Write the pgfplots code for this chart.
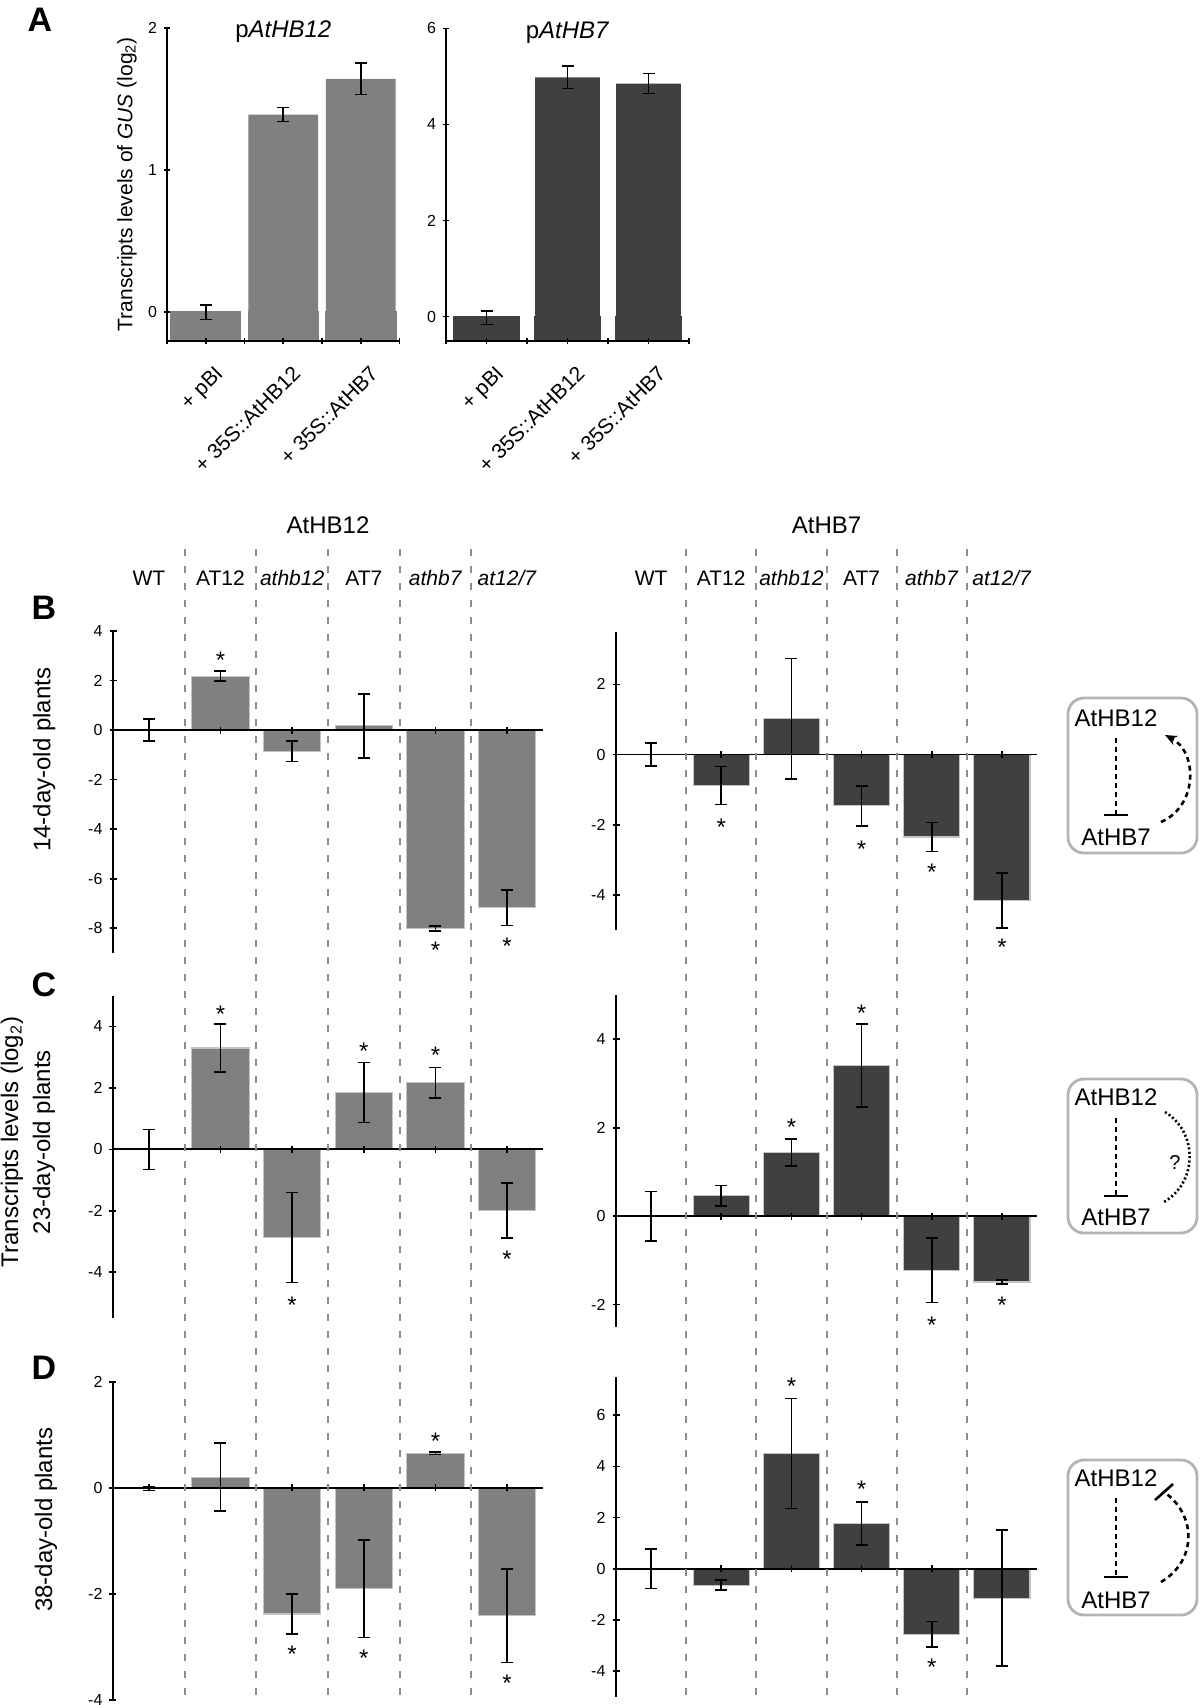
\documentclass[border=0pt]{standalone}
\usepackage{fontspec}
\setmainfont{Liberation Sans}
\usepackage{pgfplots}
\pgfplotsset{compat=1.18}
\usepackage{pgfplotstable}
\usetikzlibrary{arrows.meta}

\definecolor{lbar}{HTML}{808080}
\definecolor{dbar}{HTML}{404040}
\definecolor{bedge}{HTML}{C4C4C4}
\definecolor{sepc}{HTML}{8C8C8C}
\definecolor{boxc}{HTML}{B4B4B4}

% Panel A
\pgfplotstableread{
x y e
0 0 0.05
1 1.39 0.05
2 1.64 0.11
}\Aleft
\pgfplotstableread{
x y e
0 -0.02 0.14
1 4.98 0.23
2 4.85 0.21
}\Aright
% 14-day
\pgfplotstableread{
x y e
0 0 0.45
1 2.18 0.20
2 -0.85 0.42
3 0.17 1.29
4 -8.00 0.10
5 -7.17 0.72
}\Bleft
\pgfplotstableread{
x y e
0 0 0.33
1 -0.88 0.54
2 1.02 1.72
3 -1.46 0.57
4 -2.35 0.41
5 -4.16 0.78
}\Bright
% 23-day
\pgfplotstableread{
x y e
0 0 0.65
1 3.30 0.78
2 -2.87 1.47
3 1.85 0.98
4 2.17 0.49
5 -1.99 0.90
}\Cleft
\pgfplotstableread{
x y e
0 0 0.56
1 0.46 0.23
2 1.44 0.31
3 3.41 0.94
4 -1.22 0.73
5 -1.49 0.04
}\Cright
% 38-day
\pgfplotstableread{
x y e
0 -0.02 0.03
1 0.20 0.64
2 -2.38 0.38
3 -1.90 0.92
4 0.65 0.02
5 -2.41 0.88
}\Dleft
\pgfplotstableread{
x y e
0 0 0.77
1 -0.64 0.19
2 4.50 2.15
3 1.76 0.84
4 -2.56 0.50
5 -1.15 2.66
}\Dright

\tikzset{astar/.style={font=\fontsize{12}{14}\selectfont, inner sep=0pt, yshift=-2.4pt}}

\pgfplotsset{
  myaxis/.style={
    scale only axis, clip=false, axis on top,
    anchor=south west,
    /pgf/number format/assume math mode=true,
    tick label style={font=\fontsize{8}{9.6}\selectfont},
    axis line style={-, line width=0.9pt, black},
    tick style={black, line width=0.8pt},
    tick align=outside,
    major tick length=3pt,
    minor tick length=3pt,
    hide obscured x ticks=false,
    hide obscured y ticks=false,
  },
  genax/.style={
    myaxis,
    xmin=-0.5, xmax=5.5,
    axis y line=left, axis x line=middle,
    axis line style={-},
    xtick={0,1,2,3,4,5},
    xticklabels={,,,,,},
    major tick length=3.5pt,
  },
  mybar/.style={
    ybar, bar width=0.8, fill=#1, draw=bedge, line width=0.6pt,
    error bars/y dir=both, error bars/y explicit,
    error bars/error bar style={black, line width=0.8pt},
    error bars/error mark options={black, line width=0.8pt, mark size=3pt, rotate=90},
  },
  Aax/.style={
    myaxis,
    xmin=-0.5, xmax=2.5,
    axis lines=left, axis line style={-},
    xtick={0,1,2},
    xticklabels={+ pBI, + 35S::AtHB12, + 35S::AtHB7},
    minor xtick={-0.5,0.5,1.5,2.5},
    xticklabel style={xshift=4pt, yshift=-5.5pt, rotate=45, anchor=north east, font=\fontsize{10.5}{12}\selectfont},
    title style={at={(0.5,1)}, anchor=center, yshift=-8pt, font=\fontsize{12}{14}\selectfont},
  },
}

\begin{document}
\begin{tikzpicture}
\useasboundingbox (0pt,0pt) rectangle (600pt,-852.5pt);

% ---------------- Panel A ----------------
\begin{axis}[Aax, at={(83.5pt,-170.35pt)}, width=116.3pt, height=156.5pt,
  ymin=-0.2, ymax=2, ytick={0,1,2},
  title={p\textit{AtHB12}},
  ylabel={Transcripts levels of \textit{GUS} (log\textsubscript{2})},
  ylabel style={at={(axis description cs:-0.172,0.5)}, anchor=center, font=\fontsize{10.5}{12}\selectfont},
]
\addplot[ybar, bar width=0.9, fill=lbar, draw=lbar, line width=0.8pt] coordinates {(0,-0.2) (1,-0.2) (2,-0.2)};
\addplot[mybar=lbar, bar width=0.9, draw=none] table[x=x, y=y, y error=e] {\Aleft};
\end{axis}

\begin{axis}[Aax, at={(223pt,-170.35pt)}, width=121.5pt, height=156.2pt,
  ymin=-0.5, ymax=6, ytick={0,2,4,6},
  title={p\textit{AtHB7}},
]
\addplot[ybar, bar width=0.8, fill=dbar, draw=dbar, line width=0.8pt] coordinates {(0,-0.5) (1,-0.5) (2,-0.5)};
\addplot[mybar=dbar, draw=none] table[x=x, y=y, y error=e] {\Aright};
\end{axis}

% ---------------- Panel B (14-day) ----------------
\begin{axis}[genax, at={(56.5pt,-476.5pt)}, width=215pt, height=161pt,
  ymin=-9, ymax=4, ytick={-8,-6,-4,-2,0,2,4},
  xticklabels={WT,AT12,\textit{athb12},AT7,\textit{athb7},\textit{at12/7}},
  xticklabel style={anchor=base, yshift=74.25pt, font=\fontsize{10.5}{12}\selectfont},
  title={AtHB12},
  title style={at={(0.5,1)}, anchor=center, yshift=47pt, font=\fontsize{12}{14}\selectfont},
  ylabel={14-day-old plants},
  ylabel style={at={(axis description cs:-0.160,0.6)}, anchor=center, font=\fontsize{12}{14}\selectfont},
]
\addplot[mybar=lbar] table[x=x, y=y, y error=e] {\Bleft};
\node[astar] at (axis cs:1,3.0) {*};
\node[astar] at (axis cs:4,-8.68) {*};
\node[astar] at (axis cs:5,-8.55) {*};
\end{axis}

\begin{axis}[genax, at={(308pt,-465pt)}, width=210.5pt, height=149.15pt,
  ymin=-5, ymax=3.5, ytick={-4,-2,0,2},
  xticklabels={WT,AT12,\textit{athb12},AT7,\textit{athb7},\textit{at12/7}},
  xticklabel style={anchor=base, yshift=86.25pt, font=\fontsize{10.5}{12}\selectfont},
  title={AtHB7},
  title style={at={(0.5,1)}, anchor=center, yshift=47.35pt, font=\fontsize{12}{14}\selectfont},
]
\addplot[mybar=dbar] table[x=x, y=y, y error=e] {\Bright};
\node[astar] at (axis cs:1,-1.93) {*};
\node[astar] at (axis cs:3,-2.55) {*};
\node[astar] at (axis cs:4,-3.21) {*};
\node[astar] at (axis cs:5,-5.34) {*};
\end{axis}

% ---------------- Panel C (23-day) ----------------
\begin{axis}[genax, at={(56.5pt,-659.15pt)}, width=215pt, height=161.3pt,
  ymin=-5.5, ymax=5, ytick={-4,-2,0,2,4},
  ylabel={Transcripts levels (log\textsubscript{2})\\23-day-old plants},
  ylabel style={at={(axis description cs:-0.198,0.546)}, anchor=center, align=center, font=\fontsize{12}{16}\selectfont},
]
\addplot[mybar=lbar] table[x=x, y=y, y error=e] {\Cleft};
\node[astar] at (axis cs:1,4.55) {*};
\node[astar] at (axis cs:2,-4.92) {*};
\node[astar] at (axis cs:3,3.34) {*};
\node[astar] at (axis cs:4,3.21) {*};
\node[astar] at (axis cs:5,-3.42) {*};
\end{axis}

\begin{axis}[genax, at={(308pt,-663.35pt)}, width=210.5pt, height=165.85pt,
  ymin=-2.5, ymax=5, ytick={-2,0,2,4},
]
\addplot[mybar=dbar] table[x=x, y=y, y error=e] {\Cright};
\node[astar] at (axis cs:2,2.11) {*};
\node[astar] at (axis cs:3,4.69) {*};
\node[astar] at (axis cs:4,-2.35) {*};
\node[astar] at (axis cs:5,-1.90) {*};
\end{axis}

% ---------------- Panel D (38-day) ----------------
\begin{axis}[genax, at={(56.5pt,-850pt)}, width=215pt, height=159.15pt,
  ymin=-4, ymax=2, ytick={-4,-2,0,2},
  ylabel={38-day-old plants},
  ylabel style={at={(axis description cs:-0.156,0.566)}, anchor=center, font=\fontsize{12}{14}\selectfont},
]
\addplot[mybar=lbar] table[x=x, y=y, y error=e] {\Dleft};
\node[astar] at (axis cs:2,-3.04) {*};
\node[astar] at (axis cs:3,-3.12) {*};
\node[astar] at (axis cs:4,0.96) {*};
\node[astar] at (axis cs:5,-3.60) {*};
\end{axis}

\begin{axis}[genax, at={(308pt,-848.35pt)}, width=210.5pt, height=160pt,
  ymin=-5, ymax=7.5, ytick={-4,-2,0,2,4,6},
]
\addplot[mybar=dbar] table[x=x, y=y, y error=e] {\Dright};
\node[astar] at (axis cs:2,7.3) {*};
\node[astar] at (axis cs:3,3.29) {*};
\node[astar] at (axis cs:4,-3.66) {*};
\end{axis}

% separators
\foreach \xx in {92.35,128.15,164,199.85,235.65,343.1,378.15,413.25,448.35,483.4}
  \draw[sepc, line width=1pt, dash pattern=on 3.5pt off 5pt] (\xx pt,-274.5pt) -- (\xx pt,-852.5pt);

% panel letters
\node[font=\bfseries\fontsize{17}{20}\selectfont] at (20pt,-10pt) {A};
\node[font=\bfseries\fontsize{17}{20}\selectfont] at (22pt,-304pt) {B};
\node[font=\bfseries\fontsize{17}{20}\selectfont] at (22pt,-492.5pt) {C};
\node[font=\bfseries\fontsize{17}{20}\selectfont] at (22pt,-684pt) {D};

% diagrams
\tikzset{dtxt/.style={font=\fontsize{12}{14}\selectfont, inner sep=0pt},
  dline/.style={line width=1.3pt, dash pattern=on 2.5pt off 2pt}}
% B
\draw[boxc, line width=1.4pt, rounded corners=8pt] (534pt,-349pt) rectangle (598.5pt,-426.5pt);
\node[dtxt] at (558pt,-359pt) {AtHB12};
\node[dtxt] at (558pt,-418.5pt) {AtHB7};
\draw[dline] (558pt,-369pt) -- (558pt,-407.5pt);
\draw[line width=1.3pt] (552pt,-407.5pt) -- (564pt,-407.5pt);
\draw[dline, -{Stealth[length=6pt,width=5pt]}] (580.5pt,-411pt) .. controls (599pt,-403pt) and (599pt,-376pt) .. (582.5pt,-367.5pt);
% C
\draw[boxc, line width=1.4pt, rounded corners=8pt] (534pt,-539.5pt) rectangle (598.5pt,-616.5pt);
\node[dtxt] at (558pt,-548.5pt) {AtHB12};
\node[dtxt] at (558pt,-608.5pt) {AtHB7};
\draw[dline] (558pt,-559pt) -- (558pt,-598pt);
\draw[line width=1.3pt] (552pt,-598pt) -- (564pt,-598pt);
\draw[line width=1.3pt, dash pattern=on 1pt off 1.2pt] (582.5pt,-556pt) .. controls (599pt,-566pt) and (599pt,-591pt) .. (582pt,-601pt);
\node[font=\fontsize{10}{12}\selectfont] at (587.5pt,-581pt) {?};
% D
\draw[boxc, line width=1.4pt, rounded corners=8pt] (534pt,-730pt) rectangle (598.5pt,-807.5pt);
\node[dtxt] at (558pt,-739pt) {AtHB12};
\node[dtxt] at (558pt,-800pt) {AtHB7};
\draw[dline] (558pt,-749pt) -- (558pt,-788.5pt);
\draw[line width=1.3pt] (552pt,-788.5pt) -- (564pt,-788.5pt);
\draw[dline] (580.5pt,-791pt) .. controls (599pt,-780pt) and (598pt,-757pt) .. (582pt,-746pt);
\draw[line width=1.3pt] (577.5pt,-750pt) -- (586.5pt,-742pt);
\end{tikzpicture}
\end{document}
